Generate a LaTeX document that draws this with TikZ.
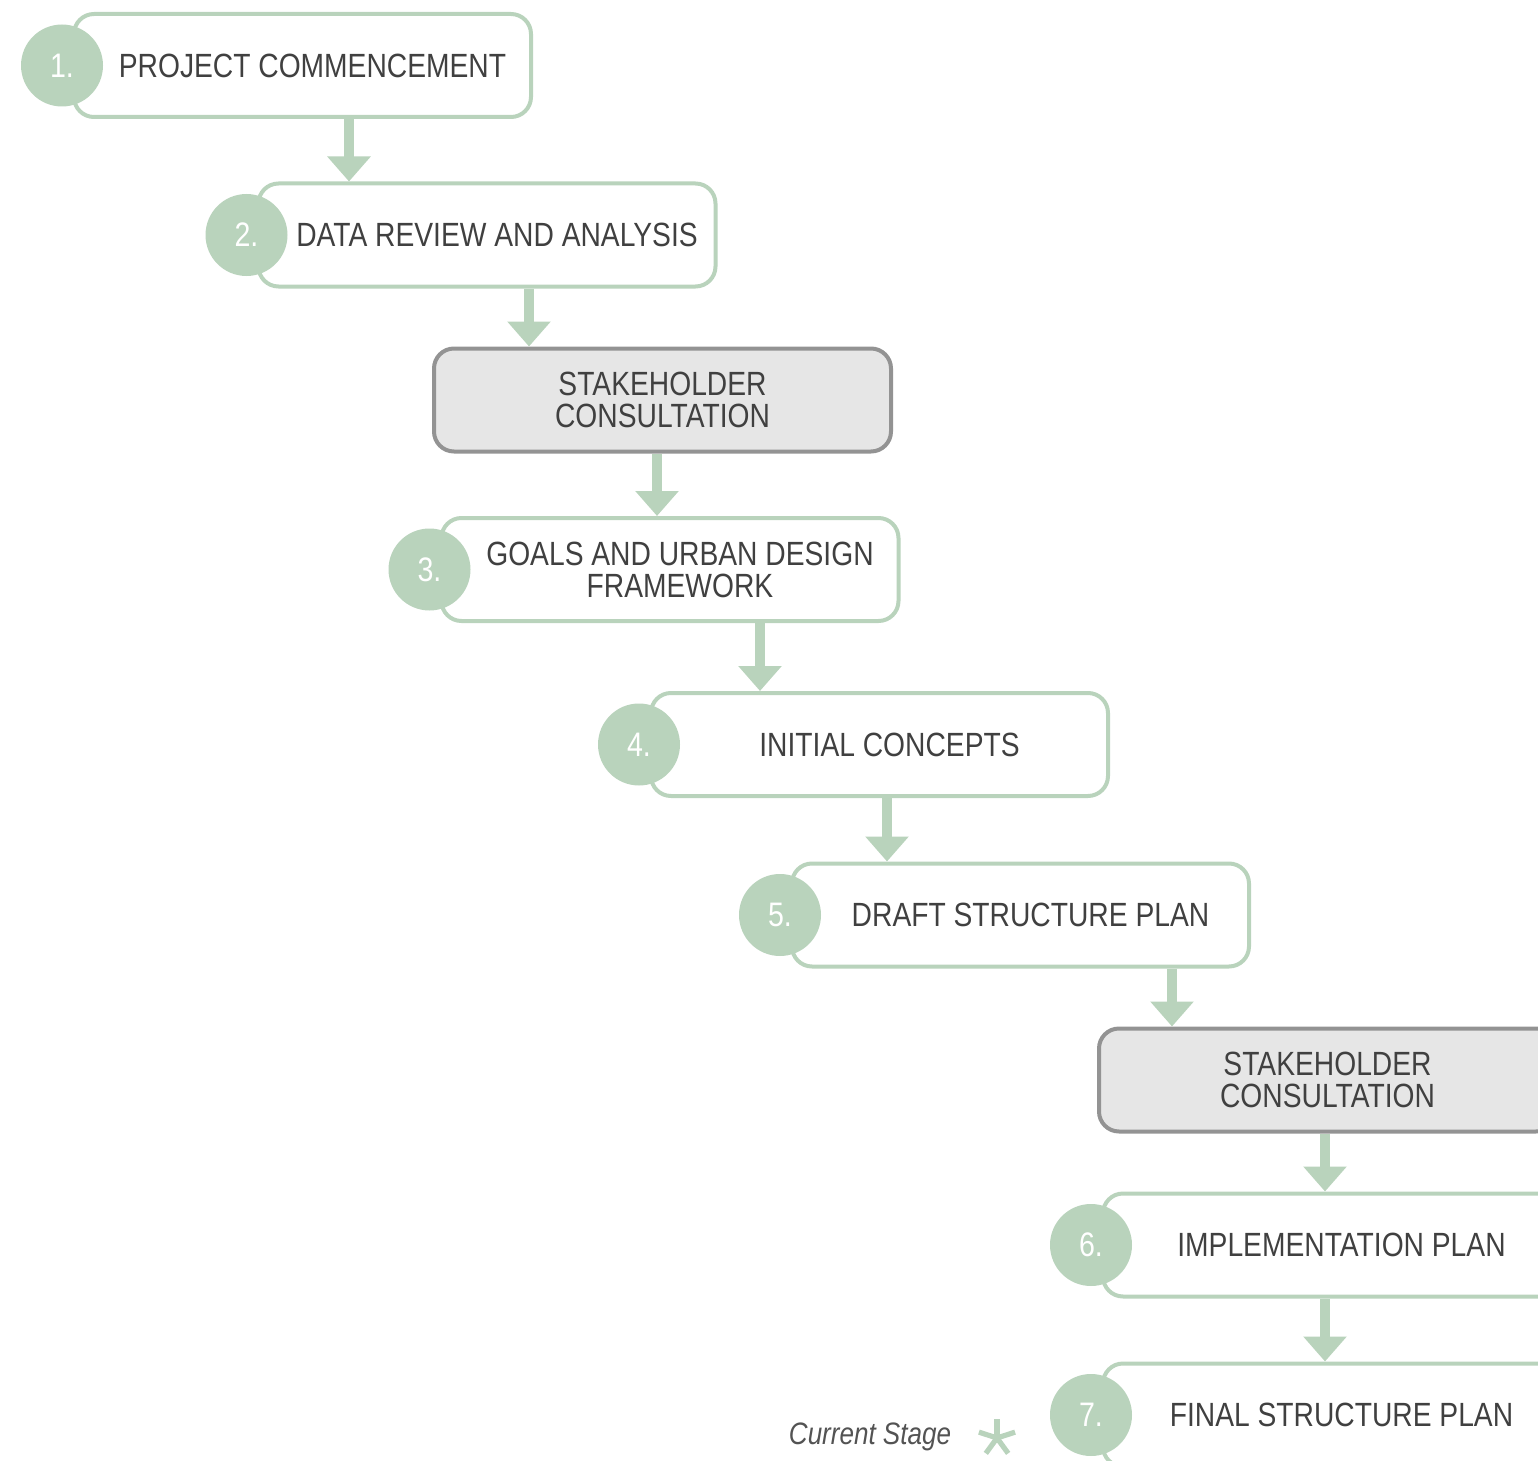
\documentclass[tikz,border=0pt]{standalone}
\usepackage{fontspec}
\setmainfont{Liberation Sans}[FakeStretch=0.84]
\usetikzlibrary{arrows.meta,positioning,calc}
\definecolor{stagegreen}{HTML}{B9D3BC}
\definecolor{consultbg}{HTML}{E6E6E6}
\definecolor{consultline}{HTML}{939393}
\definecolor{ink}{HTML}{404040}
\tikzset{
  box/.style={rounded corners=10pt, line width=2pt, minimum width=228.5pt, minimum height=51.5pt, align=center, font=\fontsize{16.8}{16}\selectfont, text=ink, inner sep=0pt},
  stage/.style={box, draw=stagegreen, fill=white},
  consult/.style={box, draw=consultline, fill=consultbg},
  num/.style={circle, fill=stagegreen, minimum size=41pt, inner sep=0pt, text=white, font=\fontsize{17}{15}\selectfont},
  arr/.style={-{Triangle[width=21pt,length=12.5pt]}, line width=5pt, draw=stagegreen},
}

\begin{document}
\begin{tikzpicture}[x=0.5pt, y=-0.5pt]
    \useasboundingbox (0,0) rectangle (1538,1461);
    \clip (0,0) rectangle (1538,1461);
    % stages
    \node[stage] (p1) at (302.5,65.5) {\hspace*{10pt}PROJECT COMMENCEMENT};
    \node[stage] (p2) at (487,235) {\hspace*{10pt}DATA REVIEW AND ANALYSIS};
    \node[consult] (c1) at (662.5,400) {STAKEHOLDER\\CONSULTATION};
    \node[stage] (p3) at (670,569.5) {\hspace*{10pt}GOALS AND URBAN DESIGN\\\hspace*{10pt}FRAMEWORK};
    \node[stage] (p4) at (879.5,744.5) {\hspace*{10pt}INITIAL CONCEPTS};
    \node[stage] (p5) at (1020.5,915) {\hspace*{10pt}DRAFT STRUCTURE PLAN};
    \node[consult] (c2) at (1327.5,1080) {STAKEHOLDER\\CONSULTATION};
    \node[stage] (p6) at (1331.5,1245) {\hspace*{10pt}IMPLEMENTATION PLAN};
    \node[stage] (p7) at (1331.5,1415) {\hspace*{10pt}FINAL STRUCTURE PLAN};
    % numbers
    \foreach \i in {1,...,7}
      \node[num] (n\i) at ([xshift=-5pt]p\i.west) {\i.};
    % arrows
    \foreach \u/\v/\ax in {p1/p2/349, p2/c1/529, c1/p3/657, p3/p4/760, p4/p5/887, p5/c2/1172, c2/p6/1325, p6/p7/1325}
      \draw[arr] (\u.south -| \ax,0) -- (\v.north -| \ax,0);
    % legend
    \node[font=\fontsize{15.5}{15}\selectfont\itshape, text=ink!90] (cur) at (870,1437) {Current Stage};
    \coordinate (star) at (997,1438);
    \foreach \a in {-90,-18,-162,54,126}
      \draw[stagegreen, line width=2.6pt] (star) -- ++(\a:19);
\end{tikzpicture}
\end{document}
